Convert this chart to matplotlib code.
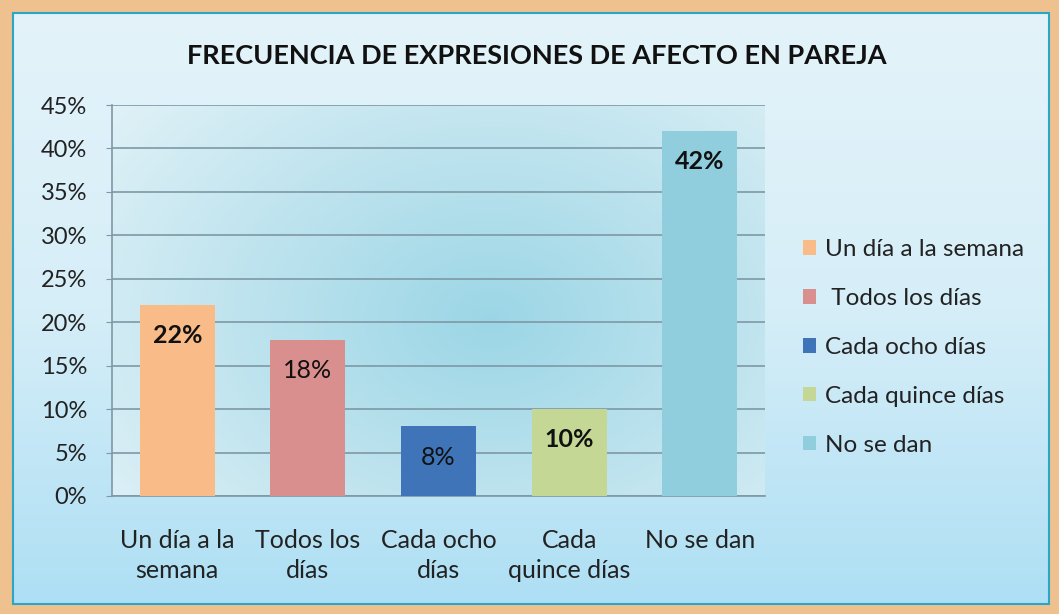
import numpy as np
import matplotlib
matplotlib.use("Agg")
import matplotlib.pyplot as plt
from matplotlib.patches import Rectangle, Patch
from matplotlib.colors import LinearSegmentedColormap

plt.rcParams['font.family'] = ['Lato', 'DejaVu Sans']

categories = ["Un día a la\nsemana", "Todos los\ndías", "Cada ocho\ndías", "Cada\nquince días", "No se dan"]
legend_labels = ["Un día a la semana", " Todos los días", "Cada ocho días", "Cada quince días", "No se dan"]
values = [22, 18, 8, 10, 42]
value_labels = ["22%", "18%", "8%", "10%", "42%"]
label_bold = [True, False, False, True, True]
colors = ["#f9bc88", "#d98f8e", "#3f74b9", "#c4d795", "#90cddd"]
yticks = [0, 5, 10, 15, 20, 25, 30, 35, 40, 45]
title = "FRECUENCIA DE EXPRESIONES DE AFECTO EN PAREJA"

W, H = 1059, 614
fig = plt.figure(figsize=(W / 100, H / 100), dpi=100)

# background with vertical gradient and orange frame
bg = fig.add_axes([0, 0, 1, 1], zorder=-10)
bg.set_axis_off()
bg.set_xlim(0, W)
bg.set_ylim(H, 0)
bg.add_patch(Rectangle((0, 0), W, H, color="#efc18e"))
grad = np.linspace(0, 1, 256).reshape(-1, 1)
cmap_bg = LinearSegmentedColormap.from_list("bg", ["#e4f3fa", "#d6eef8", "#aedff4"])
bg.imshow(grad, cmap=cmap_bg, extent=[13, W - 10, H - 10, 13], aspect="auto", zorder=1)
bg.add_patch(Rectangle((13, 13), W - 23, H - 23, fill=False, edgecolor="#2aa6c6", lw=1.5, zorder=2))

ax = fig.add_axes([112 / W, 1 - 496 / H, (765 - 112) / W, (496 - 105) / H])

# radial-ish gradient for plot area
xx, yy = np.meshgrid(np.linspace(0, 1, 300), np.linspace(0, 1, 200))
d = np.sqrt(((xx - 0.58) / 0.75) ** 2 + ((yy - 0.45) / 0.9) ** 2)
cmap_pa = LinearSegmentedColormap.from_list("pa", ["#9cd6e6", "#bde3ee", "#e0f1f7"])
ax.imshow(np.clip(d, 0, 1), cmap=cmap_pa, extent=[0, 1, 0, 1], transform=ax.transAxes,
          aspect="auto", zorder=0, origin="lower")

x = np.arange(len(categories))
ax.bar(x, values, width=0.575, color=colors, zorder=3)
ax.set_xlim(-0.5, len(categories) - 0.5)
ax.set_ylim(0, 45)
ax.set_yticks(yticks)
ax.set_yticklabels([f"{t}%" for t in yticks], fontsize=17, color="#222222")
ax.set_xticks(x)
ax.set_xticklabels(categories, fontsize=18, color="#222222", linespacing=1.35)
ax.yaxis.grid(True, color="#7e98a6", lw=1.2, zorder=1)
ax.set_axisbelow(True)
ax.tick_params(axis="y", length=4, color="#7e98a6", pad=14)
ax.tick_params(axis="x", length=0, pad=24)
for s in ["top", "right"]:
    ax.spines[s].set_visible(False)
for s in ["left", "bottom"]:
    ax.spines[s].set_color("#7e98a6")
    ax.spines[s].set_linewidth(1.2)

for xi, v, lab, b in zip(x, values, value_labels, label_bold):
    ax.annotate(lab, xy=(xi, v), xytext=(0, -22), textcoords="offset points",
                ha="center", va="center", fontsize=18,
                fontweight="bold" if b else "normal", color="#111111", zorder=5)

fig.text(537 / W, 1 - 56 / H, title, ha="center", va="center", fontsize=19.5,
         fontweight="bold", color="#111111")

handles = [Patch(facecolor=c, edgecolor="none") for c in colors]
fig.legend(handles, legend_labels, loc="upper left", bbox_to_anchor=(781 / W, 1 - 217 / H),
           frameon=False, fontsize=17.5, handlelength=0.55, handleheight=0.55,
           handletextpad=0.35, labelspacing=1.15, labelcolor="#222222")

fig.savefig("out.png", dpi=100)
